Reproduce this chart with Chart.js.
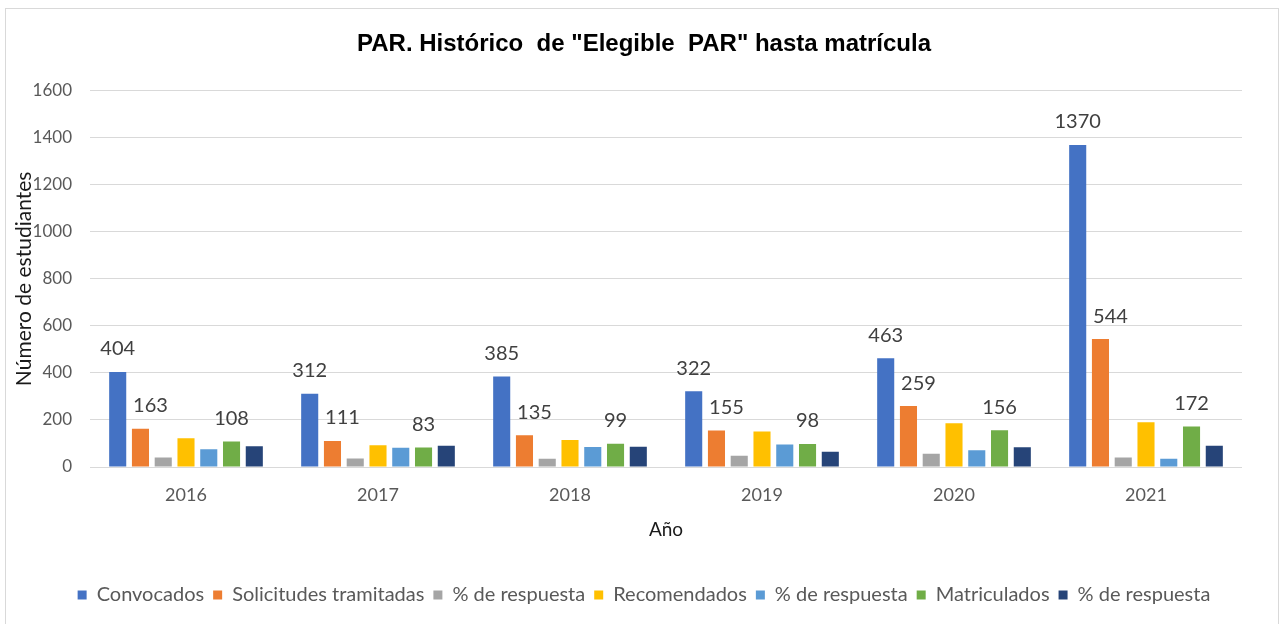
<!DOCTYPE html>
<html>
<head>
<meta charset="utf-8">
<script src="https://cdn.jsdelivr.net/npm/chart.js@4/dist/chart.umd.min.js"></script>
<style>
  html, body { margin: 0; padding: 0; background: #fff; }
  #wrap { width: 1282px; height: 624px; }
</style>
</head>
<body>
<div id="wrap"><canvas id="chart" width="1282" height="624"></canvas></div>
<script>
/* data */
const years = ["2016", "2017", "2018", "2019", "2020", "2021"];
const convocados = [404, 312, 385, 322, 463, 1370];
const solicitudes = [163, 111, 135, 155, 259, 544];
const respuestaSolicitudes = [40, 36, 35, 48, 56, 40];
const recomendados = [122, 92, 115, 151, 186, 190];
const respuestaRecomendados = [75, 82, 85, 96, 71, 35];
const matriculados = [108, 83, 99, 98, 156, 172];
const respuestaMatriculados = [88, 90, 86, 65, 84, 90];
const yTicks = [0, 200, 400, 600, 800, 1000, 1200, 1400, 1600];

const font = "Lato, 'Open Sans', sans-serif";

/* white page + light frame */
const framePlugin = {
  id: "frame",
  beforeDraw(chart) {
    const ctx = chart.ctx;
    ctx.save();
    ctx.fillStyle = "#fff";
    ctx.fillRect(0, 0, chart.width, chart.height);
    ctx.strokeStyle = "#D9D9D9";
    ctx.lineWidth = 1;
    ctx.strokeRect(5.5, 8.5, 1273, 640);
    ctx.restore();
  }
};

/* value labels for Convocados, Solicitudes, Matriculados */
const labelShift = { 0: 0, 1: 10, 5: 0 };
const valueLabels = {
  id: "valueLabels",
  afterDatasetsDraw(chart) {
    const ctx = chart.ctx;
    ctx.save();
    ctx.font = "20px " + font;
    ctx.fillStyle = "#404040";
    ctx.textAlign = "center";
    ctx.textBaseline = "middle";
    Object.keys(labelShift).forEach(k => {
      const i = Number(k);
      const meta = chart.getDatasetMeta(i);
      meta.data.forEach((bar, j) => {
        const v = chart.data.datasets[i].data[j];
        ctx.fillText(String(v), bar.x + labelShift[k], bar.y - 23);
      });
    });
    ctx.restore();
  }
};

const mk = (label, data, color) => ({ label, data, backgroundColor: color, borderWidth: 0 });

new Chart(document.getElementById("chart"), {
  type: "bar",
  data: {
    labels: years,
    datasets: [
      mk("Convocados", convocados, "#4472C4"),
      mk("Solicitudes tramitadas", solicitudes, "#ED7D31"),
      mk("% de respuesta", respuestaSolicitudes, "#A5A5A5"),
      mk("Recomendados", recomendados, "#FFC000"),
      mk("% de respuesta", respuestaRecomendados, "#5B9BD5"),
      mk("Matriculados", matriculados, "#70AD47"),
      mk("% de respuesta", respuestaMatriculados, "#264478")
    ]
  },
  options: {
    responsive: false,
    animation: false,
    datasets: { bar: { barPercentage: 0.75, categoryPercentage: 0.83 } },
    layout: { padding: { left: 9, right: 3, top: 0, bottom: 9 } },
    plugins: {
      title: {
        display: true,
        text: 'PAR. Histórico  de "Elegible  PAR" hasta matrícula',
        color: "#000",
        font: { family: "'Liberation Sans', Arial, sans-serif", size: 24, weight: "bold", lineHeight: 1.2 },
        padding: { top: 30, bottom: 32 }
      },
      legend: {
        position: "bottom",
        labels: {
          color: "#595959",
          font: { family: font, size: 20 },
          boxWidth: 9,
          boxHeight: 9,
          padding: 9
        }
      },
      tooltip: { enabled: false }
    },
    scales: {
      x: {
        grid: { display: false, drawTicks: false },
        border: { display: false },
        ticks: { color: "#595959", font: { family: font, size: 18 }, padding: 17 },
        title: {
          display: true, text: "Año", color: "#1a1a1a",
          font: { family: font, size: 19, lineHeight: 1.2 },
          padding: { top: 0, bottom: 35 }
        },
        afterFit: s => { s.height = 109; }
      },
      y: {
        min: 0,
        max: 1600,
        afterBuildTicks: s => { s.ticks = yTicks.map(v => ({ value: v })); },
        grid: { color: "#D9D9D9", lineWidth: 1, drawTicks: false },
        border: { display: false },
        ticks: { color: "#595959", font: { family: font, size: 17 }, padding: 18, callback: v => String(v) },
        title: {
          display: true, text: "Número de estudiantes", color: "#1a1a1a",
          font: { family: font, size: 21, lineHeight: 1.2 },
          padding: { top: 3, bottom: 0 }
        },
        afterFit: s => { s.width = 81; }
      },
      yRight: {
        type: "linear",
        position: "right",
        grid: { display: false, drawTicks: false },
        border: { display: false },
        ticks: { display: false },
        afterFit: s => { s.width = 37; }
      }
    }
  },
  plugins: [framePlugin, valueLabels]
});
</script>
</body>
</html>
